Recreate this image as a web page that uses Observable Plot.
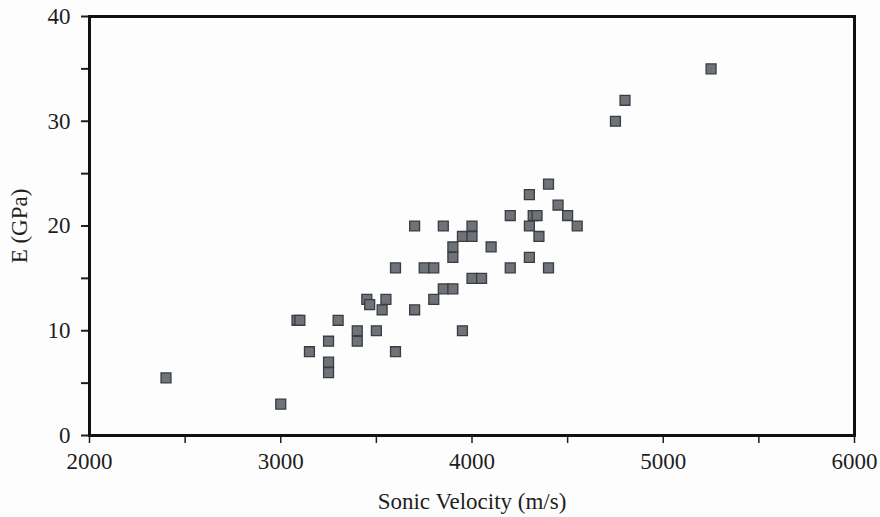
<!DOCTYPE html>
<html>
<head>
<meta charset="utf-8">
<script src="https://cdn.jsdelivr.net/npm/d3@7"></script>
<script src="https://cdn.jsdelivr.net/npm/@observablehq/plot@0.6"></script>
<style>
  html, body { margin: 0; padding: 0; background: #fdfdfd; }
  #chart svg { display: block; }
</style>
</head>
<body>
<div id="chart"></div>
<script>
const sonicVelocity = [
  2400, 3000, 3085, 3100, 3150, 3250, 3250, 3250, 3300, 3400,
  3400, 3450, 3465, 3500, 3530, 3550, 3600, 3600, 3700, 3700,
  3750, 3800, 3800, 3850, 3850, 3900, 3900, 3900, 3950, 4000,
  4000, 3950, 4000, 4050, 4100, 4200, 4200, 4300, 4300, 4300,
  4320, 4340, 4350, 4400, 4400, 4450, 4500, 4550, 4750, 4800,
  5250
];
const youngModulus = [
  5.5, 3, 11, 11, 8, 9, 7, 6, 11, 10,
  9, 13, 12.5, 10, 12, 13, 16, 8, 20, 12,
  16, 16, 13, 20, 14, 14, 18, 17, 19, 19,
  20, 10, 15, 15, 18, 21, 16, 23, 20, 17,
  21, 21, 19, 24, 16, 22, 21, 20, 30, 32,
  35
];
const xTicks = [2000, 2500, 3000, 3500, 4000, 4500, 5000, 5500, 6000];
const xTickLabels = ["2000", "", "3000", "", "4000", "", "5000", "", "6000"];
const yTicks = [0, 5, 10, 15, 20, 25, 30, 35, 40];
const yTickLabels = ["0", "", "10", "", "20", "", "30", "", "40"];
const xLabel = "Sonic Velocity (m/s)";
const yLabel = "E (GPa)";

const data = sonicVelocity.map((v, i) => ({v, e: youngModulus[i]}));
const serif = "'Liberation Serif', 'DejaVu Serif', serif";

const chart = Plot.plot({
  width: 880,
  height: 517,
  marginLeft: 89,
  marginRight: 26,
  marginTop: 16,
  marginBottom: 82,
  style: {fontFamily: serif, fontSize: "23px", color: "#1e1e1e", background: "#fdfdfd"},
  x: {domain: [2000, 6000]},
  y: {domain: [0, 40]},
  marks: [
    Plot.axisX({
      ticks: xTicks,
      tickFormat: (d) => xTickLabels[xTicks.indexOf(d)],
      tickSize: 8,
      tickPadding: 9,
      strokeWidth: 1.5,
      fontFamily: serif,
      fontSize: 23,
      label: xLabel,
      labelAnchor: "center",
      labelArrow: "none",
      labelOffset: 73
    }),
    Plot.axisY({
      ticks: yTicks,
      tickFormat: (d) => yTickLabels[yTicks.indexOf(d)],
      tickSize: 8,
      tickPadding: 11,
      strokeWidth: 2,
      fontFamily: serif,
      fontSize: 23,
      label: yLabel,
      labelAnchor: "center",
      labelArrow: "none",
      labelOffset: 79
    }),
    Plot.frame({stroke: "#111", strokeWidth: 3}),
    Plot.dot(data, {
      x: "v",
      y: "e",
      symbol: "square",
      r: 5.6,
      fill: "#6e7279",
      stroke: "#3a3c40",
      strokeWidth: 1.3
    })
  ]
});
document.getElementById("chart").appendChild(chart);
</script>
</body>
</html>
